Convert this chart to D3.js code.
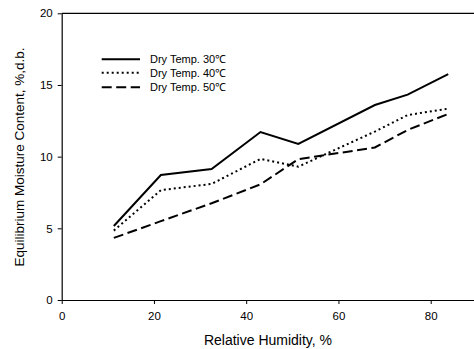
<!DOCTYPE html>
<html>
<head>
<meta charset="utf-8">
<script src="https://cdn.jsdelivr.net/npm/d3@7"></script>
<style>
html,body{margin:0;padding:0;background:#fff;}
svg{display:block;font-family:"Liberation Sans",Arial,sans-serif;}
</style>
</head>
<body>
<svg id="chart" width="474" height="349"></svg>
<script>
const humidity = [11.3, 21.5, 32.5, 43.1, 51.3, 67.9, 75.0, 83.8];
const temp30 = [5.16, 8.72, 9.14, 11.72, 10.89, 13.6, 14.33, 15.75];
const temp40 = [4.84, 7.66, 8.10, 9.84, 9.30, 11.75, 12.90, 13.35];
const temp50 = [4.33, 5.50, 6.75, 8.07, 9.82, 10.64, 11.86, 12.98];
const seriesNames = ["Dry Temp. 30\u2103", "Dry Temp. 40\u2103", "Dry Temp. 50\u2103"];
const xTicks = [0, 20, 40, 60, 80];
const yTicks = [0, 5, 10, 15, 20];

const series = [
  {name: seriesNames[0], values: temp30, dash: null},
  {name: seriesNames[1], values: temp40, dash: "2,3"},
  {name: seriesNames[2], values: temp50, dash: "10,4.5"}
];

const svg = d3.select("#chart");
const mLeft = 61.7, mTop = 13.3, mBottom = 300;
const x = d3.scaleLinear().domain([0, 90]).range([mLeft, mLeft + 90 * 4.6125]);
const y = d3.scaleLinear().domain([0, 20]).range([mBottom, mTop]);

// frame top line
svg.append("line").attr("x1", mLeft).attr("x2", 474).attr("y1", mTop).attr("y2", mTop)
  .attr("stroke", "#000").attr("stroke-width", 1.2);

const xAxis = svg.append("g").attr("transform", `translate(0,${mBottom})`)
  .call(d3.axisBottom(x).tickValues(xTicks).tickSize(4).tickPadding(8).tickSizeOuter(0));
const yAxis = svg.append("g").attr("transform", `translate(${mLeft},0)`)
  .call(d3.axisLeft(y).tickValues(yTicks).tickSize(4).tickPadding(5).tickSizeOuter(0));
[xAxis, yAxis].forEach(a => {
  a.select(".domain").attr("stroke", "#000").attr("stroke-width", 1.2);
  a.selectAll(".tick line").attr("stroke", "#000").attr("stroke-width", 1);
  a.selectAll(".tick text").attr("font-size", 11.5).attr("fill", "#000")
    .attr("font-family", "'Liberation Sans', Arial, sans-serif");
});
// extend x domain to right edge
xAxis.select(".domain").attr("d", `M${mLeft},0.5H474`);

const line = d3.line().x((d, i) => x(humidity[i])).y(d => y(d));
series.forEach(s => {
  svg.append("path").datum(s.values).attr("d", line)
    .attr("fill", "none").attr("stroke", "#000").attr("stroke-width", 2)
    .attr("stroke-dasharray", s.dash);
});

// legend
const legY = [59.3, 72.8, 87.2];
series.forEach((s, i) => {
  svg.append("line").attr("x1", 101.7).attr("x2", 140).attr("y1", legY[i]).attr("y2", legY[i])
    .attr("stroke", "#000").attr("stroke-width", 2).attr("stroke-dasharray", s.dash);
  svg.append("text").attr("x", 150).attr("y", legY[i] + 4).attr("font-size", 11)
    .attr("fill", "#000").text(s.name);
});

// axis titles
svg.append("text").attr("x", 268).attr("y", 345).attr("text-anchor", "middle")
  .attr("font-size", 14).attr("fill", "#000").text("Relative Humidity, %");
svg.append("text").attr("transform", "translate(24,157) rotate(-90)").attr("text-anchor", "middle")
  .attr("font-size", 13.5).attr("fill", "#000").text("Equilibrium Moisture Content, %,d.b.");
</script>
</body>
</html>
